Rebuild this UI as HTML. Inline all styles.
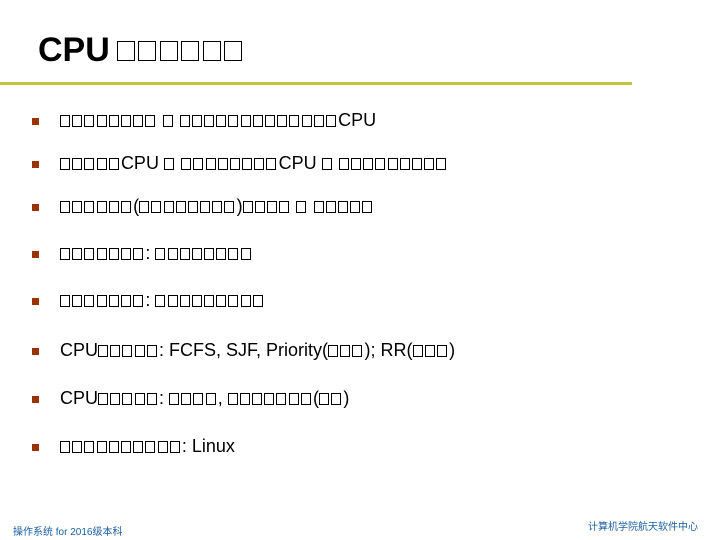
<!DOCTYPE html>
<html><head><meta charset="utf-8"><style>
body{margin:0;width:720px;height:540px;background:#fff;position:relative;overflow:hidden;font-family:"Liberation Sans",Arial,sans-serif;}
.t{position:absolute;left:38px;top:30px;font-size:34px;font-weight:bold;line-height:40px;white-space:nowrap}
.t .b{width:18px;height:20px;margin-right:3.5px;border-width:1.5px;vertical-align:0px}
.t .b:first-child{margin-left:7px}
.rule{position:absolute;left:0;top:82px;width:632px;height:3px;background:#c3c33d}
.l{position:absolute;left:60px;font-size:18px;line-height:20px;white-space:nowrap;color:#000}
.sq{position:absolute;left:32px;width:7px;height:7px;background:#993300}
.b{display:inline-block;width:10px;height:12px;border:1px solid #000;box-sizing:border-box;margin-right:2.2px;color:transparent;font-size:1px;vertical-align:-1px;overflow:hidden}
.f{position:absolute;font-size:10px;color:#1a5fa0;font-family:"Liberation Sans","Noto Sans CJK SC",sans-serif;white-space:nowrap}
</style></head><body>
<div class="t">CPU<span class="b">□</span>□□□□□</div>
<div class="rule"></div>
<div class="sq" style="top:118px"></div><div class="l" style="top:110px">□□□□□□□□ □ □□□□□□□□□□□□□CPU</div>
<div class="sq" style="top:161px"></div><div class="l" style="top:153px">□□□□□CPU □ □□□□□□□□CPU □ □□□□□□□□□</div>
<div class="sq" style="top:204px"></div><div class="l" style="top:196px">□□□□□□(□□□□□□□□)□□□□ □ □□□□□</div>
<div class="sq" style="top:251px"></div><div class="l" style="top:243px">□□□□□□□: □□□□□□□□</div>
<div class="sq" style="top:298px"></div><div class="l" style="top:290px">□□□□□□□: □□□□□□□□□</div>
<div class="sq" style="top:348px"></div><div class="l" style="top:340px">CPU□□□□□: FCFS, SJF, Priority(□□□); RR(□□□)</div>
<div class="sq" style="top:396px"></div><div class="l" style="top:388px">CPU□□□□□: □□□□, □□□□□□□(□□)</div>
<div class="sq" style="top:444px"></div><div class="l" style="top:436px">□□□□□□□□□□: Linux</div>
<div class="f" style="left:13px;top:523px">操作系统 for 2016级本科</div>
<div class="f" style="left:588px;top:518px">计算机学院航天软件中心</div>
<script>
document.querySelectorAll('.t,.l').forEach(function(e){
  e.innerHTML=e.innerHTML.replace(/(^|[^>])□/g,function(m,p){return p+'<span class="b">□</span>';}).replace(/□(?!<\/span>)/g,'<span class="b">□</span>');
});
</script>
</body></html>
